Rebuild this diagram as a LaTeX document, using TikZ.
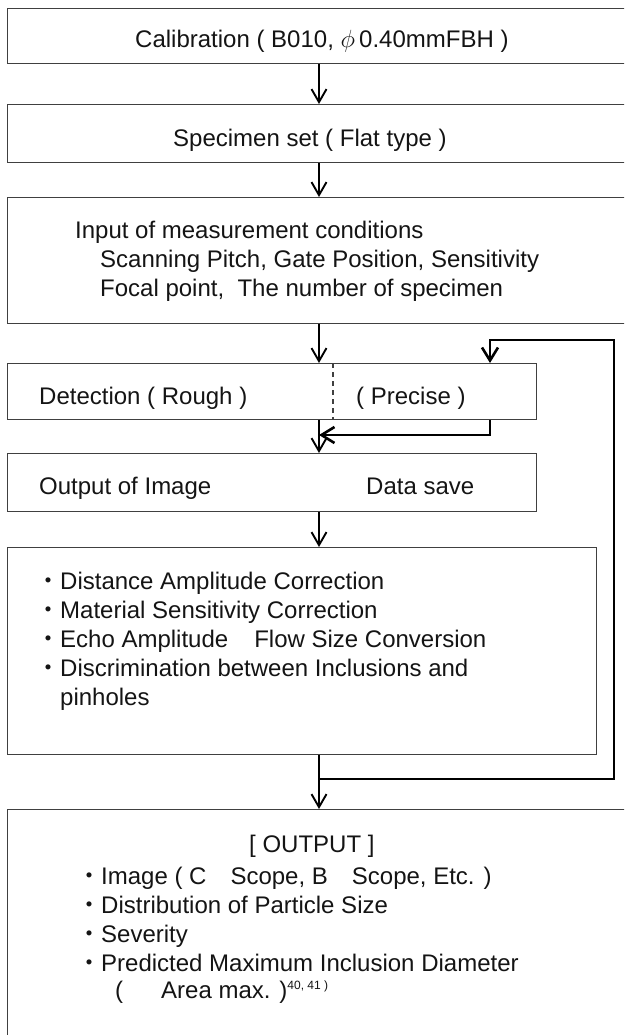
\documentclass[tikz,border=0pt]{standalone}
\usepackage{fontspec}
\setmainfont{Liberation Sans}
\newfontfamily\cjk{Noto Sans CJK JP}
\usetikzlibrary{arrows.meta}
\newcommand\bul{{\cjk ・}}
\begin{document}
\begin{tikzpicture}[x=1pt,y=-1pt,
  box/.style={draw=black!75, line width=1.1pt, inner sep=0pt, anchor=north west},
  txt/.style={anchor=base west, inner sep=0pt, font=\fontsize{24}{29}\selectfont, text=black!92},
  arr/.style={line width=1.9pt, -{Straight Barb[length=13pt,width=15pt]}},
  looparr/.style={line width=2.6pt, line join=miter, -{Straight Barb[length=13pt,width=16pt]}}]
\useasboundingbox (0,0) rectangle (624,1035);
\clip (0,0) rectangle (624,1035);
% boxes
\node[box, minimum width=640pt, minimum height=55pt] (b1) at (7,8) {};
\node[box, minimum width=640pt, minimum height=58pt] (b2) at (7,104) {};
\node[box, minimum width=640pt, minimum height=126pt] (b3) at (7,197) {};
\node[box, minimum width=529pt, minimum height=56pt] (det) at (7,363) {};
\node[box, minimum width=529pt, minimum height=58pt] (oimg) at (7,453) {};
\node[box, minimum width=589pt, minimum height=207pt] (corr) at (7,547) {};
\node[box, minimum width=640pt, minimum height=300pt] (out) at (7,809) {};
% divider
\draw[dash pattern=on 5pt off 4pt, line width=1.1pt, draw=black!75] (det.north west) ++(326,0) -- ++(0,56);
% texts
\node[txt] (t1) at (135,48) {Calibration ( B010, $\phi\,$0.40mmFBH )};
\node[txt] (t2) at (173,147) {Specimen set ( Flat type )};
\node[txt] (t3a) at (75,238) {Input of measurement conditions};
\node[txt] (t3b) at (100,267) {Scanning Pitch, Gate Position, Sensitivity};
\node[txt] (t3c) at (100,296) {Focal point,\ \ The number of specimen};
\node[txt] (td1) at (39,404) {Detection ( Rough )};
\node[txt] (td2) at (356,404) {( Precise )};
\node[txt] (to1) at (39,494) {Output of Image};
\node[txt] (to2) at (366,494) {Data save};
\node[txt] (c1) at (36,589) {\bul Distance Amplitude Correction};
\node[txt] (c2) at (36,618) {\bul Material Sensitivity Correction};
\node[txt] (c3) at (36,647) {\bul Echo Amplitude\hspace{26pt}Flow Size Conversion};
\node[txt] (c4) at (36,676) {\bul Discrimination between Inclusions and};
\node[txt] (c5) at (60,705) {pinholes};
\node[txt] (o0) at (249,852) {[ OUTPUT ]};
\node[txt] (o1) at (77,884) {\bul Image ( C\hspace{24pt}Scope, B\hspace{24pt}Scope, Etc. )};
\node[txt] (o2) at (77,913) {\bul Distribution of Particle Size};
\node[txt] (o3) at (77,942) {\bul Severity};
\node[txt] (o4) at (77,971) {\bul Predicted Maximum Inclusion Diameter};
\node[txt] (o5) at (115,998) {(\hspace{38pt}Area max. )\raisebox{9pt}{\fontsize{12}{12}\selectfont 40, 41 )}};
% connectors
\coordinate (m) at (319,0);
\coordinate (pr) at (490,0);
\coordinate (lpb) at (614,779);
\coordinate (lpt) at (614,340);
\coordinate (ret) at (0,435);
\draw[arr] (b1.south -| m) -- (b2.north -| m);
\draw[arr] (b2.south -| m) -- (b3.north -| m);
\draw[arr] (b3.south -| m) -- (det.north -| m);
\draw[arr] (det.south -| m) -- (oimg.north -| m);
\draw[arr] (oimg.south -| m) -- (corr.north -| m);
\draw[arr] (corr.south -| m) -- (out.north -| m);
\draw[looparr] (m |- lpb) -- (lpb) -- (lpt) -- (pr |- lpt) -- (det.north -| pr);
\draw[looparr] (det.south -| pr) -- (pr |- ret) -- (m |- ret);
\end{tikzpicture}
\end{document}
